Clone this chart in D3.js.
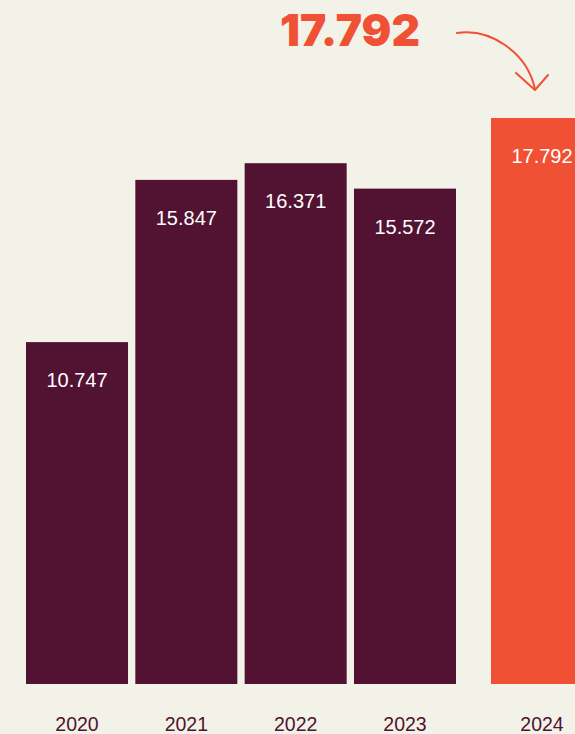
<!DOCTYPE html>
<html>
<head>
<meta charset="utf-8">
<script src="https://cdn.jsdelivr.net/npm/d3@7"></script>
<style>
  html, body { margin: 0; padding: 0; background: #f3f2e9; overflow: hidden; }
  svg { display: block; }
</style>
</head>
<body>
<svg id="chart"></svg>
<script>
// data
var years = ["2020", "2021", "2022", "2023", "2024"];
var values = [10.747, 15.847, 16.371, 15.572, 17.792];
var valueLabels = ["10.747", "15.847", "16.371", "15.572", "17.792"];
var headline = "17.792";

var width = 575, height = 734;
var baseline = 684;

var svg = d3.select("#chart")
  .attr("width", width)
  .attr("height", height);

// y scale: 0 at bar base
var y = d3.scaleLinear().domain([0, 17.792]).range([baseline, 118]);

// first four bars share a band, the last one sits apart
var x = d3.scaleBand().domain(years.slice(0, 4)).range([26, 456]).paddingInner(0.067).paddingOuter(0);
var barW = x.bandwidth();
function barX(yr) {
  if (yr == "2024") return 491;
  return x(yr);
}

var data = years.map(function (d, i) { return {year: d, value: values[i], label: valueLabels[i]}; });

svg.selectAll(".bar")
  .data(data)
  .enter().append("rect")
  .attr("class", "bar")
  .attr("x", function (d) { return barX(d.year); })
  .attr("y", function (d) { return y(d.value); })
  .attr("width", barW)
  .attr("height", function (d) { return baseline - y(d.value); })
  .attr("fill", function (d) { return d.year == "2024" ? "#f05134" : "#511331"; });

svg.selectAll(".val")
  .data(data)
  .enter().append("text")
  .attr("class", "val")
  .attr("x", function (d) { return barX(d.year) + barW / 2; })
  .attr("y", function (d) { return y(d.value) + 45; })
  .attr("text-anchor", "middle")
  .attr("fill", "#ffffff")
  .style("font-family", "'Liberation Sans', Arial, sans-serif")
  .style("font-size", "20px")
  .text(function (d) { return d.label; });

svg.selectAll(".yr")
  .data(data)
  .enter().append("text")
  .attr("class", "yr")
  .attr("x", function (d) { return barX(d.year) + barW / 2; })
  .attr("y", 731)
  .attr("text-anchor", "middle")
  .attr("fill", "#511331")
  .style("font-family", "'Liberation Sans', Arial, sans-serif")
  .style("font-size", "19.5px")
  .text(function (d) { return d.year; });

// headline number
svg.append("text")
  .attr("x", 280)
  .attr("y", 46)
  .attr("fill", "#f05134")
  .attr("textLength", 140)
  .attr("lengthAdjust", "spacingAndGlyphs")
  .style("font-family", "Inter, 'Liberation Sans', sans-serif")
  .style("font-weight", 900)
  .style("font-size", "44px")
  .text(headline);

// hand drawn arrow
var arrow = svg.append("g")
  .attr("fill", "none")
  .attr("stroke", "#f05134")
  .attr("stroke-width", 2)
  .attr("stroke-linecap", "round")
  .attr("stroke-linejoin", "round");

arrow.append("path")
  .attr("d", "M457,33 C490,28 527,52 535,89");
arrow.append("path")
  .attr("d", "M516,73 L535,90 L548,75");
</script>
</body>
</html>
